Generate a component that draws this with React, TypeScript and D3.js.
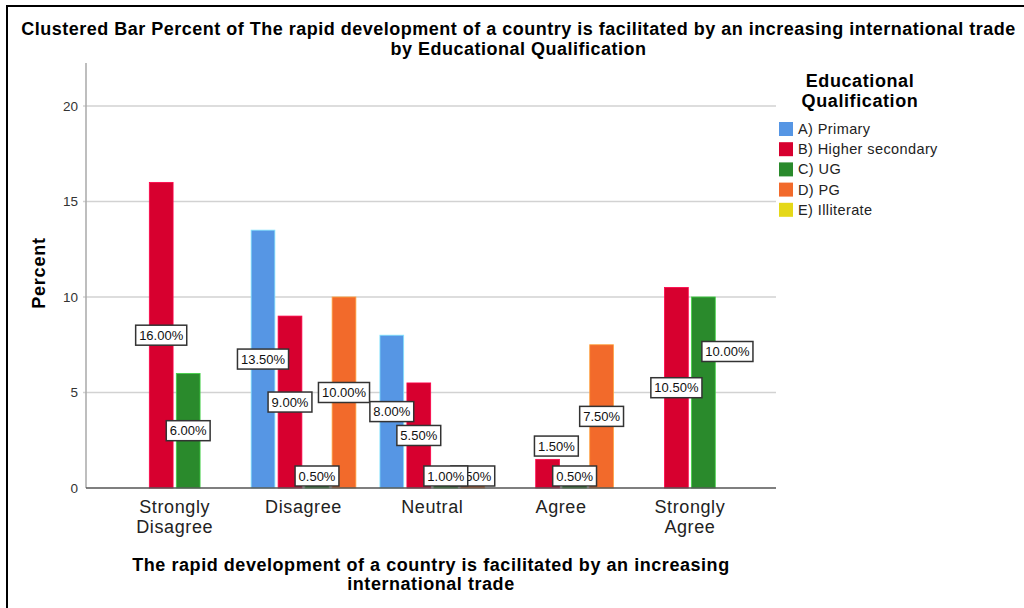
import React from "react";
import * as d3 from "d3";

const titleLines = [
  "Clustered Bar Percent of The rapid development of a country is facilitated by an increasing international trade",
  "by Educational Qualification",
];
const categories = ["Strongly Disagree", "Disagree", "Neutral", "Agree", "Strongly Agree"];
const categoryLines = [["Strongly", "Disagree"], ["Disagree"], ["Neutral"], ["Agree"], ["Strongly", "Agree"]];
const seriesNames = ["A) Primary", "B) Higher secondary", "C) UG", "D) PG", "E) Illiterate"];
const seriesColors = ["#5696e4", "#d7002f", "#2a8a2c", "#f26a2b", "#e5d818"];
const primary = [null, 13.5, 8.0, null, null];
const higherSecondary = [16.0, 9.0, 5.5, 1.5, 10.5];
const ug = [6.0, 0.5, 1.0, 0.5, 10.0];
const pg = [null, 10.0, 0.5, 7.5, null];
const illiterate = [null, null, null, null, null];
const yTicks = [0, 5, 10, 15, 20];
const xTitleLines = ["The rapid development of a country is facilitated by an increasing", "international trade"];
const legendTitleLines = ["Educational", "Qualification"];
const yTitle = "Percent";
// label collision directives (which label SPSS moved away from its neighbour)
const labelMoves: Record<string, string> = {
  "Agree|B) Higher secondary": "up",
  "Strongly Agree|C) UG": "upRight",
};

const seriesValues = [primary, higherSecondary, ug, pg, illiterate];

const W = 1024;
const H = 608;
const font = "Arial, 'Liberation Sans', Helvetica, sans-serif";

function textW(s: string, size: number) {
  let w = 0;
  for (const ch of s) {
    if (ch === ".") w += 0.278;
    else if (ch === "%") w += 0.889;
    else w += 0.556;
  }
  return w * size;
}

export default function App() {
  const plotLeft = 86;
  const plotRight = 776;
  const plotTop = 63;
  const plotBottom = 488;

  const y = d3.scaleLinear().domain([0, 22.25]).range([plotBottom, plotTop]);
  const x0 = d3.scaleBand<string>().domain(categories).range([110.3, 754.3]).padding(0);
  const present = seriesNames.filter((_, i) => seriesValues[i].some((v) => v != null));
  const bw = x0.bandwidth();
  const inner = (bw - 108) / 2;
  const x1 = d3
    .scaleBand<string>()
    .domain(present)
    .range([inner, bw - inner])
    .paddingInner(0.12)
    .paddingOuter(0.06);

  type Bar = { cat: string; ci: number; s: string; si: number; v: number; color: string };
  const bars: Bar[] = [];
  categories.forEach((cat, ci) => {
    seriesNames.forEach((s, si) => {
      const v = seriesValues[si][ci];
      if (v != null) bars.push({ cat, ci, s, si, v, color: seriesColors[si] });
    });
  });

  const labelSize = 13;
  const boxH = 20;
  const labels = bars.map((b) => {
    const txt = b.v.toFixed(2) + "%";
    const bwid = textW(txt, labelSize) + 7;
    let cx = (x0(b.cat) as number) + (x1(b.s) as number) + x1.bandwidth() / 2;
    let cy = (y(b.v) + y(0)) / 2;
    cy = Math.min(cy, plotBottom - 2 - boxH / 2);
    const mv = labelMoves[b.cat + "|" + b.s];
    if (mv === "up") {
      cx += bwid * 0.2;
      cy -= boxH * 1.38;
    } else if (mv === "upRight") {
      cx += bwid * 0.47;
      cy -= boxH * 2.05;
    }
    return { txt, bwid, cx, cy, si: b.si };
  });
  const labelsDraw = [...labels].sort((a, b) => b.si - a.si);

  const legendX = 779;
  const legendY0 = 122;
  const legendStep = 20.2;

  return (
    <svg
      width={W}
      height={H}
      style={{ position: "fixed", left: 0, top: 0, background: "#fff" }}
      fontFamily={font}
    >
      <rect x={0} y={0} width={W} height={H} fill="#fff" />
      {/* frame */}
      <line x1={6} x2={W} y1={6} y2={6} stroke="#000" strokeWidth={2} />
      <line x1={7} x2={7} y1={5} y2={H} stroke="#000" strokeWidth={2} />

      {/* title */}
      {titleLines.map((t, i) => (
        <text
          key={t}
          x={518.5}
          y={35 + i * 19.5}
          textAnchor="middle"
          fontSize={18}
          fontWeight="bold"
          letterSpacing={0.5}
          fill="#000"
        >
          {t}
        </text>
      ))}

      {/* grid */}
      {yTicks
        .filter((t) => t > 0)
        .map((t) => (
          <line key={"g" + t} x1={plotLeft - 3} x2={plotRight} y1={y(t)} y2={y(t)} stroke="#d2d2d2" strokeWidth={1.5} />
        ))}

      {/* y axis */}
      <line x1={plotLeft} x2={plotLeft} y1={plotTop} y2={plotBottom} stroke="#a8a8a8" strokeWidth={1.5} />
      {yTicks.map((t) => (
        <text key={"yt" + t} x={78} y={y(t) + 5} textAnchor="end" fontSize={13.5} fill="#333">
          {t}
        </text>
      ))}
      <text
        transform={`translate(45, ${273}) rotate(-90)`}
        textAnchor="middle"
        fontSize={18}
        fontWeight="bold"
        letterSpacing={0.8}
        fill="#000"
      >
        {yTitle}
      </text>

      {/* bars */}
      {bars.map((b) => (
        <rect
          key={b.cat + b.s}
          x={(x0(b.cat) as number) + (x1(b.s) as number)}
          y={y(b.v)}
          width={x1.bandwidth()}
          height={y(0) - y(b.v)}
          fill={b.color}
          stroke={d3.color(b.color)!.brighter(1.2).formatHex()}
          strokeWidth={0.8}
        />
      ))}

      {/* x axis */}
      <line x1={plotLeft} x2={plotRight} y1={plotBottom} y2={plotBottom} stroke="#555" strokeWidth={1.5} />
      {categories.map((c, ci) =>
        categoryLines[ci].map((ln, li) => (
          <text
            key={c + li}
            x={(x0(c) as number) + bw / 2}
            y={513 + li * 20}
            textAnchor="middle"
            fontSize={18}
            letterSpacing={0.6}
            fill="#222"
          >
            {ln}
          </text>
        ))
      )}
      {xTitleLines.map((t, i) => (
        <text
          key={t}
          x={431}
          y={571 + i * 18.5}
          textAnchor="middle"
          fontSize={18}
          fontWeight="bold"
          letterSpacing={0.55}
          fill="#000"
        >
          {t}
        </text>
      ))}

      {/* data labels */}
      {labelsDraw.map((l, i) => (
        <g key={"lb" + i}>
          <rect
            x={l.cx - l.bwid / 2}
            y={l.cy - boxH / 2}
            width={l.bwid}
            height={boxH}
            fill="#fff"
            stroke="#333"
            strokeWidth={1.5}
          />
          <text x={l.cx} y={l.cy + 4.7} textAnchor="middle" fontSize={labelSize} fill="#111">
            {l.txt}
          </text>
        </g>
      ))}

      {/* legend */}
      {legendTitleLines.map((t, i) => (
        <text
          key={t}
          x={860}
          y={87 + i * 20}
          textAnchor="middle"
          fontSize={18}
          fontWeight="bold"
          letterSpacing={0.6}
          fill="#000"
        >
          {t}
        </text>
      ))}
      {seriesNames.map((s, i) => (
        <g key={"lg" + s}>
          <rect x={legendX} y={legendY0 + i * legendStep} width={14} height={14} fill={seriesColors[i]} />
          <text x={798} y={legendY0 + i * legendStep + 12} fontSize={14.5} letterSpacing={0.4} fill="#222">
            {s}
          </text>
        </g>
      ))}
    </svg>
  );
}
